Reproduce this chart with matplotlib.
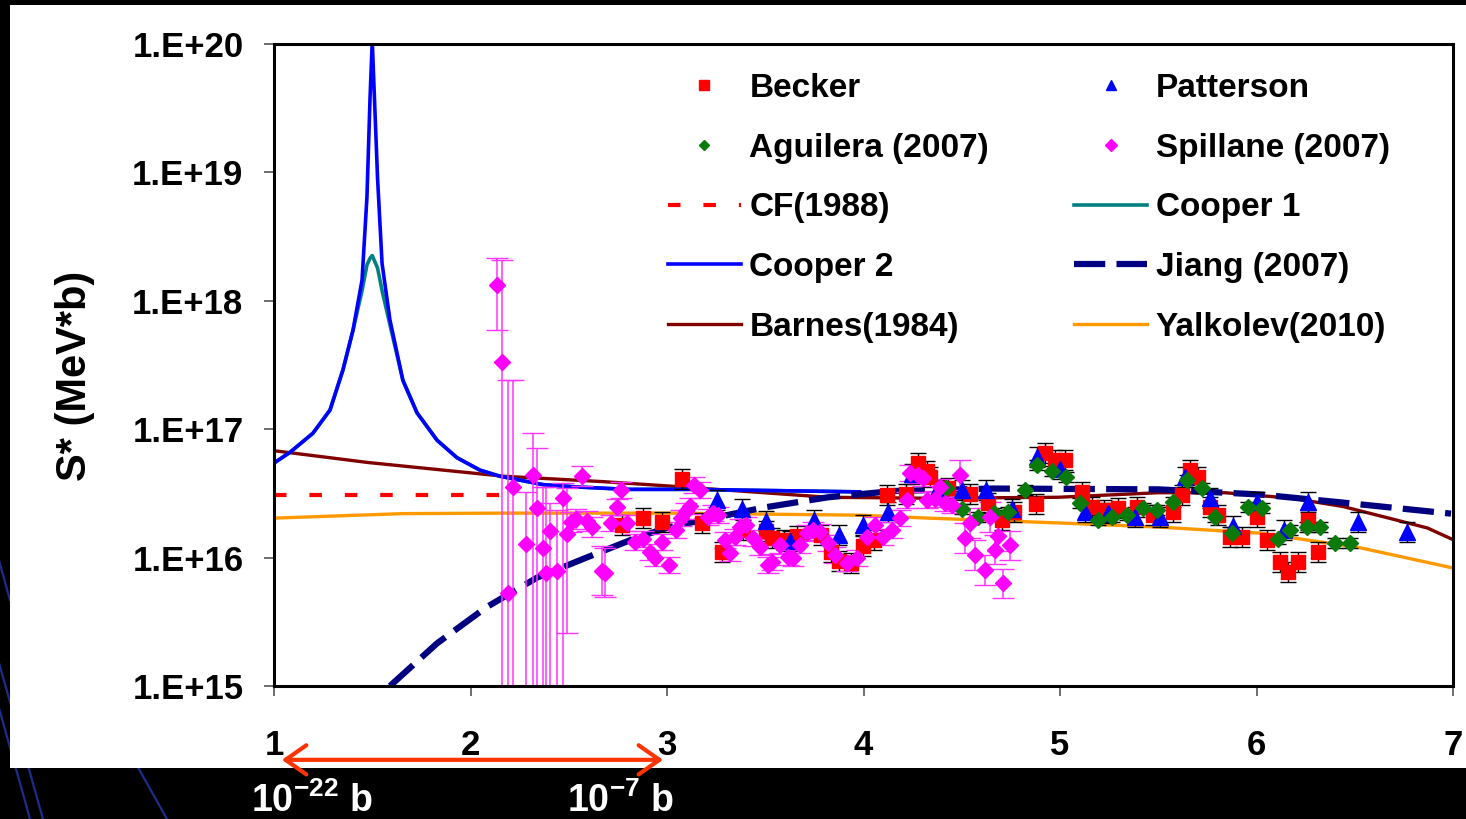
import matplotlib.pyplot as plt
import matplotlib.ticker as mticker
from matplotlib.patches import Rectangle
from matplotlib.lines import Line2D
import numpy as np

plt.rcParams['font.family'] = ['Liberation Sans', 'DejaVu Sans']
plt.rcParams['font.weight'] = 'bold'
plt.rcParams['mathtext.fontset'] = 'custom'
plt.rcParams['mathtext.rm'] = 'Liberation Sans:bold'
plt.rcParams['mathtext.bf'] = 'Liberation Sans:bold'

# DATA
becker_x = [2.771, 2.878, 2.975, 3.076, 3.178, 3.280, 3.387, 3.504, 3.534, 3.595, 3.662, 3.784, 3.835,
            3.875, 3.936, 3.997, 4.053, 4.120, 4.216, 4.277, 4.323, 4.338, 4.430, 4.542, 4.634, 4.705,
            4.766, 4.878, 4.924, 4.975, 5.025, 5.112, 5.163, 5.224, 5.295, 5.392, 5.473, 5.575, 5.621,
            5.662, 5.702, 5.763, 5.804, 5.865, 5.926, 6.003, 6.053, 6.120, 6.160, 6.211, 6.262, 6.313]
becker_y = [1.79e16, 2.03e16, 1.89e16, 4.1e16, 1.86e16, 1.11e16, 1.64e16, 1.61e16, 1.42e16, 1.37e16,
            1.47e16, 1.50e16, 1.11e16, 9.4e15, 9.1e15, 1.23e16, 1.37e16, 3.07e16, 3.13e16, 5.46e16,
            4.72e16, 4.24e16, 3.48e16, 3.13e16, 2.66e16, 1.96e16, 2.27e16, 2.61e16, 6.53e16, 5.75e16,
            5.75e16, 3.24e16, 2.48e16, 2.35e16, 2.43e16, 2.48e16, 2.15e16, 2.27e16, 3.07e16, 4.81e16,
            4.24e16, 2.48e16, 2.15e16, 1.45e16, 1.45e16, 2.07e16, 1.37e16, 9.2e15, 7.7e15, 9.2e15,
            1.96e16, 1.11e16]

patterson_x = [3.254, 3.382, 3.504, 3.626, 3.748, 3.875, 3.997, 4.125, 4.247, 4.374, 4.501, 4.623,
               4.756, 4.883, 5.000, 5.127, 5.244, 5.382, 5.509, 5.636, 5.763, 5.880, 6.003, 6.140,
               6.262, 6.517, 6.766]
patterson_y = [2.81e16, 2.39e16, 1.93e16, 1.35e16, 1.96e16, 1.50e16, 1.79e16, 2.27e16, 4.48e16,
               3.36e16, 3.36e16, 3.36e16, 2.39e16, 6.07e16, 4.90e16, 2.27e16, 2.22e16, 2.07e16,
               2.07e16, 4.24e16, 2.91e16, 1.76e16, 2.71e16, 1.64e16, 2.71e16, 1.89e16, 1.58e16]

aguilera_x = [4.420, 4.501, 4.583, 4.664, 4.735, 4.822, 4.883, 4.959, 5.031, 5.102, 5.193, 5.265,
              5.341, 5.422, 5.494, 5.575, 5.646, 5.723, 5.789, 5.875, 5.957, 6.028, 6.109, 6.170,
              6.257, 6.323, 6.399, 6.476]
aguilera_y = [3.48e16, 2.39e16, 2.07e16, 2.22e16, 2.27e16, 3.36e16, 5.26e16, 4.72e16, 4.24e16,
              2.66e16, 1.96e16, 2.07e16, 2.15e16, 2.43e16, 2.35e16, 2.71e16, 4.02e16, 3.48e16,
              2.07e16, 1.56e16, 2.48e16, 2.43e16, 1.40e16, 1.64e16, 1.73e16, 1.73e16, 1.30e16,
              1.30e16]

# Spillane, low energy points with big error bars (lower and upper ends)
spil_a_x = [2.135, 2.160, 2.191, 2.216, 2.282, 2.318, 2.338, 2.369, 2.384, 2.405, 2.440, 2.471, 2.491]
spil_a_y = [1.33e18, 3.34e17, 5.3e15, 3.55e16, 1.28e16, 4.4e16, 2.43e16, 1.19e16, 7.6e15, 1.61e16,
            7.9e15, 2.91e16, 1.53e16]
spil_a_hi = [2.15e18, 2.08e18, 2.4e17, 2.4e17, 3.24e16, 9.3e16, 7.1e16, 3.55e16, 3.55e16, 2.66e16,
             2.35e16, 3.81e16, 3.48e16]
spil_a_lo = [5.9e17, 5e14, 5e14, 5e14, 5e14, 5e14, 5e14, 5e14, 5e14, 5e14, 5e14, 5e14, 2.6e15]

# Spillane, remaining points (error as a multiplicative factor)
spil_b_x = [2.511, 2.537, 2.567, 2.593, 2.618, 2.669, 2.684, 2.715, 2.746, 2.766, 2.796, 2.837, 2.878,
            2.913, 2.939, 2.975, 3.010, 3.046, 3.071, 3.097, 3.117, 3.137, 3.168, 3.209, 3.234, 3.260,
            3.295, 3.321, 3.346, 3.372, 3.402, 3.438, 3.473, 3.514, 3.534, 3.575, 3.616, 3.641, 3.677,
            3.712, 3.743, 3.779, 3.819, 3.855, 3.916, 3.967, 4.018, 4.059, 4.099, 4.145, 4.186, 4.221,
            4.237, 4.277, 4.303, 4.323, 4.364, 4.389, 4.415, 4.450, 4.491, 4.517, 4.542, 4.567, 4.618,
            4.644, 4.669, 4.684, 4.710, 4.746]
spil_b_y = [1.89e16, 2.0e16, 4.32e16, 1.93e16, 1.73e16, 7.9e15, 7.6e15, 1.86e16, 2.48e16, 3.36e16,
            1.86e16, 1.32e16, 1.40e16, 1.11e16, 9.9e15, 1.32e16, 8.8e15, 1.64e16, 2.03e16, 2.31e16,
            2.52e16, 3.67e16, 3.36e16, 2.07e16, 2.22e16, 2.15e16, 1.37e16, 1.09e16, 1.45e16, 1.73e16,
            1.79e16, 1.42e16, 1.21e16, 8.8e15, 9.2e15, 1.25e16, 1.01e16, 9.9e15, 1.25e16, 1.56e16,
            1.64e16, 1.58e16, 1.30e16, 1.05e16, 9.1e15, 9.9e15, 1.45e16, 1.79e16, 1.45e16, 1.64e16,
            2.03e16, 2.81e16, 4.56e16, 4.4e16, 4.17e16, 2.81e16, 2.86e16, 3.55e16, 2.66e16, 2.57e16,
            4.4e16, 1.42e16, 1.86e16, 1.05e16, 8.0e15, 2.07e16, 1.15e16, 1.47e16, 6.3e15, 1.25e16]
spil_b_err = [1.2] * 5 + [1.55] * 2 + [1.15] * 53 + [1.3] * 10

data_err = 1.2

cf_x = [1.0, 2.17]
cf_y = [3.1e16, 3.1e16]

cooper_x = [1.0, 1.081, 1.198, 1.285, 1.351, 1.402, 1.448, 1.473, 1.489, 1.5, 1.527, 1.55, 1.59,
            1.656, 1.728, 1.83, 1.931, 2.048, 2.15, 2.369, 2.542, 2.796, 3.117, 3.98]
cooper1_y = [5.45e16, 6.6e16, 9.3e16, 1.41e17, 2.9e17, 5.9e17, 1.2e18, 1.9e18, 2.15e18, 2.25e18,
             1.8e18, 1.2e18, 6.5e17, 2.4e17, 1.34e17, 8.2e16, 6.0e16, 4.8e16, 4.3e16, 3.7e16,
             3.55e16, 3.4e16, 3.4e16, 3.25e16]
cooper2_y = [5.45e16, 6.6e16, 9.3e16, 1.41e17, 2.9e17, 5.9e17, 1.45e18, 6.4e18, 3.9e19, 1.05e20,
             9.0e18, 1.95e18, 7.1e17, 2.4e17, 1.34e17, 8.2e16, 6.0e16, 4.8e16, 4.3e16, 3.7e16,
             3.55e16, 3.4e16, 3.4e16, 3.25e16]

jiang_x = [1.59, 1.83, 2.08, 2.34, 2.59, 2.85, 3.02, 3.49, 3.82, 4.15, 4.66, 5.5, 6.02, 6.42, 6.99]
jiang_y = [1.0e15, 2.15e15, 4.1e15, 7.0e15, 1.0e16, 1.44e16, 1.74e16, 2.45e16, 2.95e16, 3.3e16,
           3.45e16, 3.4e16, 3.1e16, 2.7e16, 2.2e16]

barnes_x = [1.0, 1.48, 2.17, 2.68, 3.02, 3.82, 4.33, 4.99, 5.5, 5.84, 6.18, 6.44, 6.69, 6.87, 7.0]
barnes_y = [6.8e16, 5.5e16, 4.3e16, 3.9e16, 3.6e16, 2.95e16, 2.9e16, 2.95e16, 3.2e16, 3.2e16,
            2.9e16, 2.5e16, 2.0e16, 1.7e16, 1.38e16]

yalk_x = [1.0, 1.656, 2.17, 3.02, 3.98, 4.33, 5.0, 5.5, 6.02, 6.53, 7.0]
yalk_y = [2.03e16, 2.2e16, 2.22e16, 2.22e16, 2.14e16, 2.03e16, 1.86e16, 1.73e16, 1.55e16, 1.19e16,
          8.3e15]

x_ticks = [1, 2, 3, 4, 5, 6, 7]


# FIGURE
W, H = 1466, 819
fig = plt.figure(figsize=(W / 100, H / 100), dpi=100, facecolor='black')

# slide decoration: blue diagonal strokes and the white panel
for (xa, ya, xb, yb) in [(-30, 560, 43, 819), (-20, 640, 30, 819), (-40, 420, 10, 600),
                         (100, 700, 167, 819)]:
    fig.add_artist(Line2D([xa / W, xb / W], [1 - ya / H, 1 - yb / H], color='#1c2d8c', lw=1.6,
                          transform=fig.transFigure, zorder=-2))
fig.add_artist(Rectangle((10 / W, 1 - 768 / H), 1456 / W, 763 / H, transform=fig.transFigure,
                         facecolor='white', edgecolor='none', zorder=-1))

ax = fig.add_axes([274 / W, 1 - 686 / H, 1179 / W, 642 / H])
ax.set_yscale('log')
ax.set_xlim(1, 7)
ax.set_ylim(1e15, 1e20)

# model curves
ax.plot(cf_x, cf_y, color='#ff0000', lw=3, dashes=(3, 5.5), label='CF(1988)')
ax.plot(yalk_x, yalk_y, color='#ff9900', lw=2.4, label='Yalkolev(2010)')
ax.plot(barnes_x, barnes_y, color='#800000', lw=2.4, label='Barnes(1984)')
ax.plot(cooper_x, cooper1_y, color='#008080', lw=2.6, label='Cooper 1')
ax.plot(cooper_x, cooper2_y, color='#0000ff', lw=2.6, label='Cooper 2')
ax.plot(jiang_x, jiang_y, color='#000080', lw=4.5, dashes=(5, 1.8), label='Jiang (2007)')

# error bars
by = np.array(becker_y)
ax.errorbar(becker_x, by, yerr=[by - by / data_err, by * data_err - by], fmt='none',
            ecolor='black', elinewidth=1, capsize=6)
py = np.array(patterson_y)
ax.errorbar(patterson_x, py, yerr=[py - py / data_err, py * data_err - py], fmt='none',
            ecolor='black', elinewidth=1, capsize=6)
gy = np.array(aguilera_y)
ax.errorbar(aguilera_x, gy, yerr=[gy - gy / 1.1, gy * 1.1 - gy], fmt='none',
            ecolor='black', elinewidth=1, capsize=6)
sa = np.array(spil_a_y)
ax.errorbar(spil_a_x, sa, yerr=[sa - np.array(spil_a_lo), np.array(spil_a_hi) - sa], fmt='none',
            ecolor='#ff33ff', elinewidth=1.1, capsize=8)
sb = np.array(spil_b_y)
sf = np.array(spil_b_err)
ax.errorbar(spil_b_x, sb, yerr=[sb - sb / sf, sb * sf - sb], fmt='none',
            ecolor='#ff33ff', elinewidth=1.1, capsize=8)

# data points
ax.plot(becker_x, becker_y, 's', color='#ff0000', ms=10, ls='none', label='Becker')
ax.plot(patterson_x, patterson_y, '^', color='#0000ff', ms=11, ls='none', label='Patterson')
ax.plot(aguilera_x, aguilera_y, 'D', color='#0a7a0a', ms=8, ls='none', label='Aguilera (2007)')
ax.plot(spil_a_x + spil_b_x, spil_a_y + spil_b_y, 'D', color='#ff00ff', ms=8.5, ls='none',
        label='Spillane (2007)')

handles, labels = ax.get_legend_handles_labels()
lookup = dict(zip(labels, handles))
order = ['Becker', 'Aguilera (2007)', 'CF(1988)', 'Cooper 2', 'Barnes(1984)',
         'Patterson', 'Spillane (2007)', 'Cooper 1', 'Jiang (2007)', 'Yalkolev(2010)']
ax.legend([lookup[k] for k in order], order, loc='upper left', bbox_to_anchor=(0.334, 0.955),
          ncol=2, frameon=False, fontsize=24, handlelength=2.2, handletextpad=0.25,
          columnspacing=2.55, labelspacing=0.86, markerscale=0.7, borderpad=0, borderaxespad=0)

# axes styling
for s in ax.spines.values():
    s.set_linewidth(2.2)
ax.yaxis.set_minor_locator(mticker.NullLocator())
ax.yaxis.set_major_formatter(mticker.FuncFormatter(lambda v, p: '1.E+%d' % int(round(np.log10(v)))))
ax.set_xticks(x_ticks)
ax.tick_params(axis='both', direction='out', length=7, width=1.2, color='#555555', labelsize=25)
ax.tick_params(axis='y', pad=15)
ax.tick_params(axis='x', pad=24)
fig.text(75 / W, 1 - 376 / H, 'S* (MeV*b)', rotation=90, ha='center', va='center', fontsize=30,
         fontweight='bold', color='black')

# energy range arrow under the axis
ax.annotate('', xy=(2.98, -0.115), xytext=(1.04, -0.115), xycoords=('data', 'axes fraction'),
            arrowprops=dict(arrowstyle='<->,head_length=0.5,head_width=0.35', color='#ff3300',
                            lw=3, mutation_scale=30, shrinkA=0, shrinkB=0),
            annotation_clip=False)
fig.text(312 / W, 1 - 801 / H, r'10$^{-22}$ b', color='white', fontsize=27, ha='center', va='center')
fig.text(620 / W, 1 - 801 / H, r'10$^{-7}$ b', color='white', fontsize=27, ha='center', va='center')

fig.savefig('out.png', dpi=100, facecolor=fig.get_facecolor())
